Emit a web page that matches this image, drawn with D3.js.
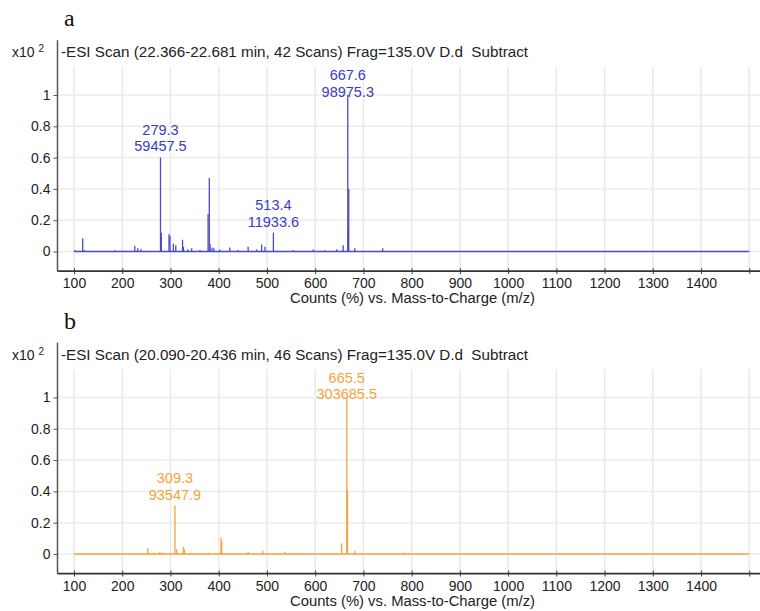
<!DOCTYPE html>
<html>
<head>
<meta charset="utf-8">
<script src="https://cdn.jsdelivr.net/npm/d3@7"></script>
<style>
  html, body { margin: 0; padding: 0; background: #fff; }
  svg { display: block; }
  text { font-family: "Liberation Sans", Arial, sans-serif; white-space: pre; }
</style>
</head>
<body>
<svg id="chart" width="760" height="611"></svg>
<script>
// ---- spectrum data (relative abundance, x10^2 %) ----
const mzTicks = [100, 200, 300, 400, 500, 600, 700, 800, 900, 1000, 1100, 1200, 1300, 1400, 1500];
const mzTickLabels = ["100", "200", "300", "400", "500", "600", "700", "800", "900", "1000", "1100", "1200", "1300", "1400", ""];
const yTicks = [0, 0.2, 0.4, 0.6, 0.8, 1];
const yTickLabels = ["0", "0.2", "0.4", "0.6", "0.8", "1"];

// Scan a: unlabelled peaks
const scanA_mz  = [102, 118, 121, 185, 205, 226, 232, 239, 281, 297, 299, 306, 311, 325, 327, 336, 344, 361,
                   378, 380.5, 382, 386, 390, 402, 423, 440, 461, 479, 489, 496, 554, 596, 620, 645, 658,
                   668.4, 669.6, 682, 740];
const scanA_rel = [0.01, 0.085, 0.01, 0.008, 0.006, 0.035, 0.02, 0.015, 0.12, 0.11, 0.10, 0.05, 0.04, 0.075, 0.03, 0.015, 0.02, 0.01,
                   0.24, 0.47, 0.05, 0.025, 0.02, 0.012, 0.025, 0.01, 0.03, 0.012, 0.045, 0.03, 0.01, 0.012, 0.008, 0.015, 0.04,
                   0.15, 0.40, 0.02, 0.02];
// Scan a: labelled peaks (m/z and counts)
const peaksA_mz     = [279.3, 513.4, 667.6];
const peaksA_counts = [59457.5, 11933.6, 98975.3];

// Scan b: unlabelled peaks
const scanB_mz  = [253, 265, 278, 285, 313, 326.5, 329, 345, 378, 404.7, 406.5, 461, 491, 537, 560, 655, 667, 682.5, 786];
const scanB_rel = [0.04, 0.008, 0.015, 0.008, 0.03, 0.047, 0.03, 0.008, 0.01, 0.104, 0.08, 0.012, 0.02, 0.015, 0.006, 0.068, 0.41, 0.02, 0.01];
// Scan b: labelled peaks
const peaksB_mz     = [309.3, 665.5];
const peaksB_counts = [93547.9, 303685.5];

const panels = [
  { letter: "a", title: "-ESI Scan (22.366-22.681 min, 42 Scans) Frag=135.0V D.d  Subtract",
    mz: scanA_mz, rel: scanA_rel, pMz: peaksA_mz, pCounts: peaksA_counts,
    line: "#4b4bc6", label: "#3a3ac8", dy: 0 },
  { letter: "b", title: "-ESI Scan (20.090-20.436 min, 46 Scans) Frag=135.0V D.d  Subtract",
    mz: scanB_mz, rel: scanB_rel, pMz: peaksB_mz, pCounts: peaksB_counts,
    line: "#f2a53a", label: "#f5a43c", dy: 302.5 }
];

const svg = d3.select("#chart");
const x = d3.scaleLinear().domain([100, 1500]).range([74, 749.3]);
const axisX0 = 57.5, axisX1 = 760;

panels.forEach(p => {
  const g = svg.append("g").attr("transform", `translate(0,${p.dy})`);
  const y = d3.scaleLinear().domain([0, 1]).range([251.5, 95]);
  const yBottom = y(-0.125), yTop = y(1.35), gridTop = y(1.18);

  // panel letter
  g.append("text").attr("x", 64).attr("y", 26)
    .style("font-family", "'Liberation Serif', 'Times New Roman', serif")
    .style("font-size", "24px").attr("fill", "#111").text(p.letter);

  // grid
  g.append("g").selectAll("line").data(mzTicks).join("line")
    .attr("x1", d => x(d)).attr("x2", d => x(d))
    .attr("y1", gridTop).attr("y2", yBottom)
    .attr("stroke", "#e9e9e9").attr("stroke-width", 1.5);
  g.append("g").selectAll("line").data(yTicks).join("line")
    .attr("x1", axisX0).attr("x2", axisX1)
    .attr("y1", d => y(d)).attr("y2", d => y(d))
    .attr("stroke", "#ececec").attr("stroke-width", 1.5);

  // baseline of the profile
  g.append("line")
    .attr("x1", x(100)).attr("x2", x(1500))
    .attr("y1", y(0)).attr("y2", y(0))
    .attr("stroke", p.line).attr("stroke-width", 1.4);

  // peaks as sticks
  const maxCounts = d3.max(p.pCounts);
  const sticks = p.mz.map((m, i) => ({ mz: m, rel: p.rel[i] }))
    .concat(p.pMz.map((m, i) => ({ mz: m, rel: p.pCounts[i] / maxCounts })));
  g.append("g").selectAll("line").data(sticks).join("line")
    .attr("x1", d => x(d.mz)).attr("x2", d => x(d.mz))
    .attr("y1", y(0)).attr("y2", d => y(d.rel))
    .attr("stroke", p.line).attr("stroke-width", 1.3);

  // peak annotations
  const ann = g.append("g").attr("fill", p.label).attr("text-anchor", "middle")
    .style("font-size", "14.5px");
  p.pMz.forEach((m, i) => {
    const top = y(p.pCounts[i] / maxCounts);
    const b2 = Math.max(top - 6, gridTop + 30);
    ann.append("text").attr("x", x(m)).attr("y", b2 - 16.5).text(m.toFixed(1));
    ann.append("text").attr("x", x(m)).attr("y", b2).text(p.pCounts[i].toFixed(1));
  });

  // axes
  const yAxis = d3.axisLeft(y).tickValues(yTicks).tickFormat((d, i) => yTickLabels[i])
    .tickSizeInner(4).tickSizeOuter(0).tickPadding(3);
  const ya = g.append("g").attr("transform", `translate(${axisX0},0)`).call(yAxis);
  ya.select(".domain").remove();
  ya.selectAll("text").style("font-size", "14px").attr("fill", "#222");
  ya.selectAll("line").attr("stroke", "#555");
  g.append("line").attr("x1", axisX0).attr("x2", axisX0).attr("y1", yTop).attr("y2", yBottom)
    .attr("stroke", "#555").attr("stroke-width", 1.5);

  const xAxis = d3.axisBottom(x).tickValues(mzTicks).tickFormat((d, i) => mzTickLabels[i])
    .tickSizeInner(3).tickSizeOuter(0).tickPadding(4);
  const xa = g.append("g").attr("transform", `translate(0,${yBottom})`).call(xAxis);
  xa.select(".domain").remove();
  xa.selectAll("text").style("font-size", "14px").attr("fill", "#222");
  xa.selectAll("line").attr("stroke", "#444").attr("y1", -3);
  g.append("line").attr("x1", axisX0).attr("x2", axisX1).attr("y1", yBottom).attr("y2", yBottom)
    .attr("stroke", "#333").attr("stroke-width", 1.8);

  g.append("text").attr("x", 290).attr("y", yBottom + 32)
    .attr("textLength", 245).attr("lengthAdjust", "spacingAndGlyphs")
    .style("font-size", "14px").attr("fill", "#222")
    .text("Counts (%) vs. Mass-to-Charge (m/z)");

  // scale factor and scan title
  const sf = g.append("text").attr("x", 12).attr("y", 57).style("font-size", "14px").attr("fill", "#222");
  sf.append("tspan").text("x10");
  sf.append("tspan").attr("dx", 4).attr("dy", -5).style("font-size", "10px").text("2");
  g.append("text").attr("x", 61).attr("y", 57)
    .attr("textLength", 467).attr("lengthAdjust", "spacingAndGlyphs")
    .style("font-size", "14px").attr("fill", "#222")
    .text(p.title);
});
</script>
</body>
</html>
